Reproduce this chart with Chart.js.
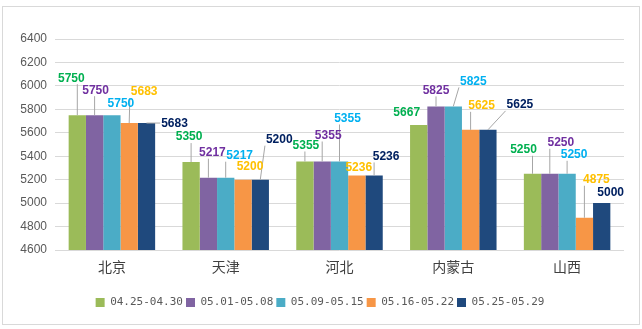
<!DOCTYPE html>
<html>
<head>
<meta charset="utf-8">
<script src="https://cdn.jsdelivr.net/npm/chart.js@4"></script>
<style>
  body { margin: 0; background: #fff; }
  #wrap { position: relative; width: 642px; height: 329px; }
  #frame { position: absolute; left: 2px; top: 6px; width: 636px; height: 317px; border: 1px solid #d9d9d9; }
  canvas { position: absolute; left: 0; top: 0; }
</style>
</head>
<body>
<div id="wrap">
  <div id="frame"></div>
  <canvas id="myChart" width="642" height="329"></canvas>
</div>
<script>
const categories = ['北京', '天津', '河北', '内蒙古', '山西'];
const seriesNames = ['04.25-04.30', '05.01-05.08', '05.09-05.15', '05.16-05.22', '05.25-05.29'];
const week1 = [5750, 5350, 5355, 5667, 5250];
const week2 = [5750, 5217, 5355, 5825, 5250];
const week3 = [5750, 5217, 5355, 5825, 5250];
const week4 = [5683, 5200, 5236, 5625, 4875];
const week5 = [5683, 5200, 5236, 5625, 5000];
const yTicks = [4600, 6400, 200]; // min, max, step

const barColors = ['#9BBB59', '#8064A2', '#4BACC6', '#F79646', '#1F497D'];
const labelColors = ['#00B050', '#7030A0', '#00B0F0', '#FFC000', '#002060'];

// label offset from bar top (dx, dy) in px, per series / category
const labelOffsets = [
    [[-6, -37], [-2, -25], [1, -16], [-12, -12], [-9, -24]],
    [[1, -25], [4, -25], [6, -26], [0, -16], [11, -31]],
    [[9, -12], [14, -22], [8, -43], [20, -25], [7, -19]],
    [[15, -31], [7, -13], [2, -8], [11, -24], [12, -38]],
    [[28, 1], [19, -40], [12, -19], [32, -25], [9, -10]]
];

// 標籤 + 引導線
const leaderLabels = {
    id: 'leaderLabels',
    afterDatasetsDraw(chart) {
        const ctx = chart.ctx;
        ctx.save();
        ctx.font = 'bold 12px "Liberation Sans", Arial, sans-serif';
        ctx.textAlign = 'center';
        ctx.textBaseline = 'middle';
        const items = [];
        chart.data.datasets.forEach((ds, i) => {
            chart.getDatasetMeta(i).data.forEach((bar, j) => {
                const [dx, dy] = labelOffsets[i][j];
                const text = String(ds.data[j]);
                const w = ctx.measureText(text).width;
                items.push({ bar, text, x: bar.x + dx, y: bar.y + dy, w, color: labelColors[i] });
            });
        });
        ctx.strokeStyle = '#a6a6a6';
        ctx.lineWidth = 1;
        items.forEach(it => {
            const l = it.x - it.w / 2 - 1, r = it.x + it.w / 2 + 1, t = it.y - 6, b = it.y + 6;
            const px = Math.min(Math.max(it.bar.x, l), r);
            const py = Math.min(Math.max(it.bar.y, t), b);
            if (Math.hypot(px - it.bar.x, py - it.bar.y) > 8) {
                ctx.beginPath();
                ctx.moveTo(it.bar.x, it.bar.y);
                ctx.lineTo(px, py);
                ctx.stroke();
            }
        });
        items.forEach(it => {
            ctx.fillStyle = it.color;
            ctx.fillText(it.text, it.x, it.y);
        });
        ctx.restore();
    }
};

const allSeries = [week1, week2, week3, week4, week5];

new Chart(document.getElementById('myChart'), {
    type: 'bar',
    data: {
        labels: categories,
        datasets: allSeries.map((d, i) => ({
            label: seriesNames[i],
            data: d,
            backgroundColor: barColors[i],
            categoryPercentage: 0.76,
            barPercentage: 1
        }))
    },
    options: {
        responsive: false,
        animation: false,
        layout: { padding: { left: 16, right: 18, top: 39, bottom: 11 } },
        plugins: {
            tooltip: { enabled: false },
            legend: {
                position: 'bottom',
                labels: {
                    boxWidth: 9, boxHeight: 9, padding: 3,
                    color: '#595959',
                    font: { family: '"DejaVu Sans Mono", monospace', size: 11 }
                }
            }
        },
        scales: {
            x: {
                grid: { display: false, drawTicks: false },
                border: { display: false },
                ticks: { color: '#404040', padding: 8, font: { family: '"Noto Sans CJK SC", sans-serif', size: 14 } },
                afterFit: s => { s.height = 44; }
            },
            y: {
                min: yTicks[0], max: yTicks[1],
                grid: { color: '#d9d9d9', drawTicks: false },
                border: { display: false },
                ticks: {
                    stepSize: yTicks[2], color: '#595959', padding: 8,
                    font: { family: '"Liberation Sans", Arial, sans-serif', size: 12 },
                    callback: v => String(v)
                },
                afterFit: s => { s.width = 39; }
            }
        }
    },
    plugins: [leaderLabels]
});
</script>
</body>
</html>
